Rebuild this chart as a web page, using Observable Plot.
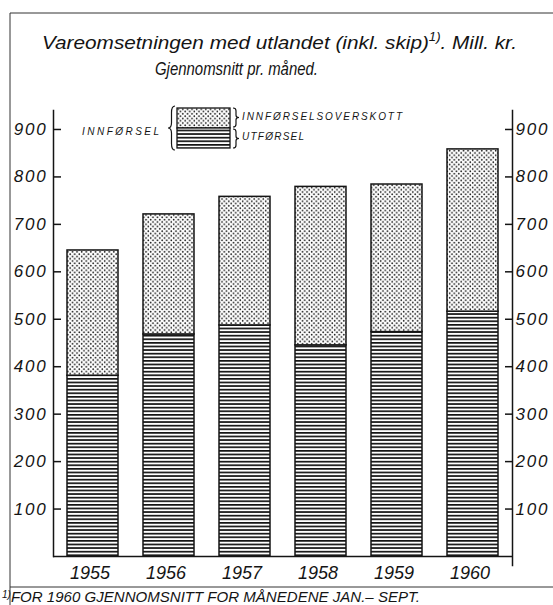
<!DOCTYPE html>
<html><head><meta charset="utf-8">
<script src="https://cdn.jsdelivr.net/npm/d3@7"></script>
<script src="https://cdn.jsdelivr.net/npm/@observablehq/plot@0.6"></script>
<style>
body{margin:0;background:#fff;}
g[aria-label="y-axis tick label"] text { letter-spacing: 1.8px; }
</style>
</head><body><div id="chart"></div>
<script>
// ---- data ----
const years = ["1955", "1956", "1957", "1958", "1959", "1960"];
const innforsel = [645, 721, 758, 779, 784, 858];   // total imports (bar top)
const utforsel = [381, 468, 487, 445, 473, 516];    // exports (lower part)
const yTicks = [100, 200, 300, 400, 500, 600, 700, 800, 900];
const titleLine1 = "Vareomsetningen med utlandet (inkl. skip)";
const titleSup = "1)";
const titleLine1End = ". Mill. kr.";
const titleLine2 = "Gjennomsnitt pr. måned.";
const legendImports = "INNFØRSEL";
const legendSurplus = "INNFØRSELSOVERSKOTT";
const legendExports = "UTFØRSEL";
const footnoteMark = "1)";
const footnote = "FOR 1960 GJENNOMSNITT FOR MÅNEDENE JAN.– SEPT.";

const rows = years.map((year, i) => ({year, utforsel: utforsel[i], innforsel: innforsel[i]}));

const font = "'Liberation Sans', Arial, sans-serif";
const ink = "#141414";

const plot = Plot.plot({
  width: 553,
  height: 605,
  marginTop: 110,
  marginBottom: 49,
  marginLeft: 53,
  marginRight: 41,
  x: {domain: years, paddingInner: 0.332, paddingOuter: 0.17, label: null},
  y: {domain: [0, 940], label: null},
  style: {fontFamily: font, background: "white", color: ink},
  marks: [
    Plot.barY(rows, {x: "year", y1: 0, y2: "utforsel", fill: "url(#lines)", stroke: ink, strokeWidth: 1.5}),
    Plot.barY(rows, {x: "year", y1: "utforsel", y2: "innforsel", fill: "url(#dots)", stroke: ink, strokeWidth: 1.5}),
    Plot.frame({anchor: "left", stroke: ink, strokeWidth: 1.5}),
    Plot.frame({anchor: "right", stroke: ink, strokeWidth: 1.5, insetBottom: -9}),
    Plot.ruleY([0], {stroke: ink, strokeWidth: 1.5}),
    Plot.axisY(yTicks, {anchor: "left", tickSize: 8, dx: 8, fill: "none", stroke: ink, strokeWidth: 1.5, label: null}),
    Plot.axisY(yTicks, {anchor: "left", tickSize: 0, tickPadding: 6, fontSize: 17, fontStyle: "italic", fill: ink, label: null}),
    Plot.axisY(yTicks, {anchor: "right", tickSize: 8, dx: -8, fill: "none", stroke: ink, strokeWidth: 1.5, label: null}),
    Plot.axisY(yTicks, {anchor: "right", tickSize: 0, tickPadding: 3, fontSize: 17, fontStyle: "italic", fill: ink, label: null}),
    Plot.axisX({anchor: "bottom", tickSize: 0, tickPadding: 10, dx: -3, fontSize: 18, fontStyle: "italic", fill: ink, label: null})
  ]
});

document.getElementById("chart").appendChild(plot);
const svg = d3.select(plot);

// patterns
const defs = svg.insert("defs", ":first-child");
const dots = defs.append("pattern").attr("id", "dots").attr("patternUnits", "userSpaceOnUse")
  .attr("width", 4.6).attr("height", 4.6);
dots.append("rect").attr("width", 4.6).attr("height", 4.6).attr("fill", "white");
dots.append("circle").attr("cx", 1.15).attr("cy", 1.15).attr("r", 0.85).attr("fill", ink);
dots.append("circle").attr("cx", 3.45).attr("cy", 3.45).attr("r", 0.85).attr("fill", ink);
const lines = defs.append("pattern").attr("id", "lines").attr("patternUnits", "userSpaceOnUse")
  .attr("width", 10).attr("height", 3.6);
lines.append("rect").attr("width", 10).attr("height", 3.6).attr("fill", "white");
lines.append("rect").attr("width", 10).attr("height", 1.7).attr("fill", ink);

// outer frame lines
const deco = svg.append("g").attr("stroke", "#333").attr("stroke-width", 1);
deco.append("line").attr("x1", 10).attr("x2", 553).attr("y1", 13).attr("y2", 13);
deco.append("line").attr("x1", 10).attr("x2", 10).attr("y1", 13).attr("y2", 605);
deco.append("line").attr("x1", 10).attr("x2", 553).attr("y1", 587).attr("y2", 587);

// title
const t1 = svg.append("text").attr("x", 42).attr("y", 49).attr("text-anchor", "start")
  .attr("font-family", font).attr("font-style", "italic").attr("font-size", 19).attr("fill", ink)
  .attr("textLength", 475).attr("lengthAdjust", "spacingAndGlyphs");
t1.append("tspan").text(titleLine1);
t1.append("tspan").attr("dy", -8).attr("font-size", 12).text(titleSup);
t1.append("tspan").attr("dy", 8).text(titleLine1End);
svg.append("text").attr("x", 155).attr("y", 75).attr("text-anchor", "start")
  .attr("font-family", font).attr("font-style", "italic").attr("font-size", 19).attr("fill", ink)
  .attr("textLength", 163).attr("lengthAdjust", "spacingAndGlyphs").text(titleLine2);

// legend
const lg = svg.append("g");
lg.append("rect").attr("x", 177).attr("y", 108).attr("width", 53).attr("height", 20)
  .attr("fill", "url(#dots)").attr("stroke", ink).attr("stroke-width", 1.3);
lg.append("rect").attr("x", 177).attr("y", 128).attr("width", 53).attr("height", 20)
  .attr("fill", "url(#lines)").attr("stroke", ink).attr("stroke-width", 1.3);
function brace(x, y0, y1, w, dir) {
  const h = y1 - y0, ym = (y0 + y1) / 2, m = x + dir * w / 2, a = x + dir * w;
  return `M${a},${y0} Q${m},${y0} ${m},${y0 + h * 0.15} L${m},${ym - h * 0.12} Q${m},${ym} ${x},${ym}` +
    ` Q${m},${ym} ${m},${ym + h * 0.12} L${m},${y1 - h * 0.15} Q${m},${y1} ${a},${y1}`;
}
lg.append("path").attr("d", brace(168, 106, 150, 7, 1)).attr("fill", "none").attr("stroke", ink).attr("stroke-width", 1.2);
lg.append("path").attr("d", brace(239, 108, 127, 6, -1)).attr("fill", "none").attr("stroke", ink).attr("stroke-width", 1.2);
lg.append("path").attr("d", brace(239, 129, 148, 6, -1)).attr("fill", "none").attr("stroke", ink).attr("stroke-width", 1.2);
const legText = (x, y, len, s) => lg.append("text").attr("x", x).attr("y", y).attr("text-anchor", "start")
  .attr("font-family", font).attr("font-style", "italic").attr("font-size", 10).attr("fill", ink)
  .attr("textLength", len).attr("lengthAdjust", "spacing").text(s);
legText(82, 135, 77, legendImports);
legText(242, 120, 160, legendSurplus);
legText(242, 140, 62, legendExports);

// footnote
const fn = svg.append("text").attr("x", 2).attr("y", 602).attr("text-anchor", "start")
  .attr("font-family", font).attr("font-style", "italic").attr("font-size", 15).attr("fill", ink)
  .attr("textLength", 418).attr("lengthAdjust", "spacingAndGlyphs");
fn.append("tspan").attr("font-size", 10).attr("dy", -4).text(footnoteMark);
fn.append("tspan").attr("dy", 4).text(footnote);
</script>
</body></html>
